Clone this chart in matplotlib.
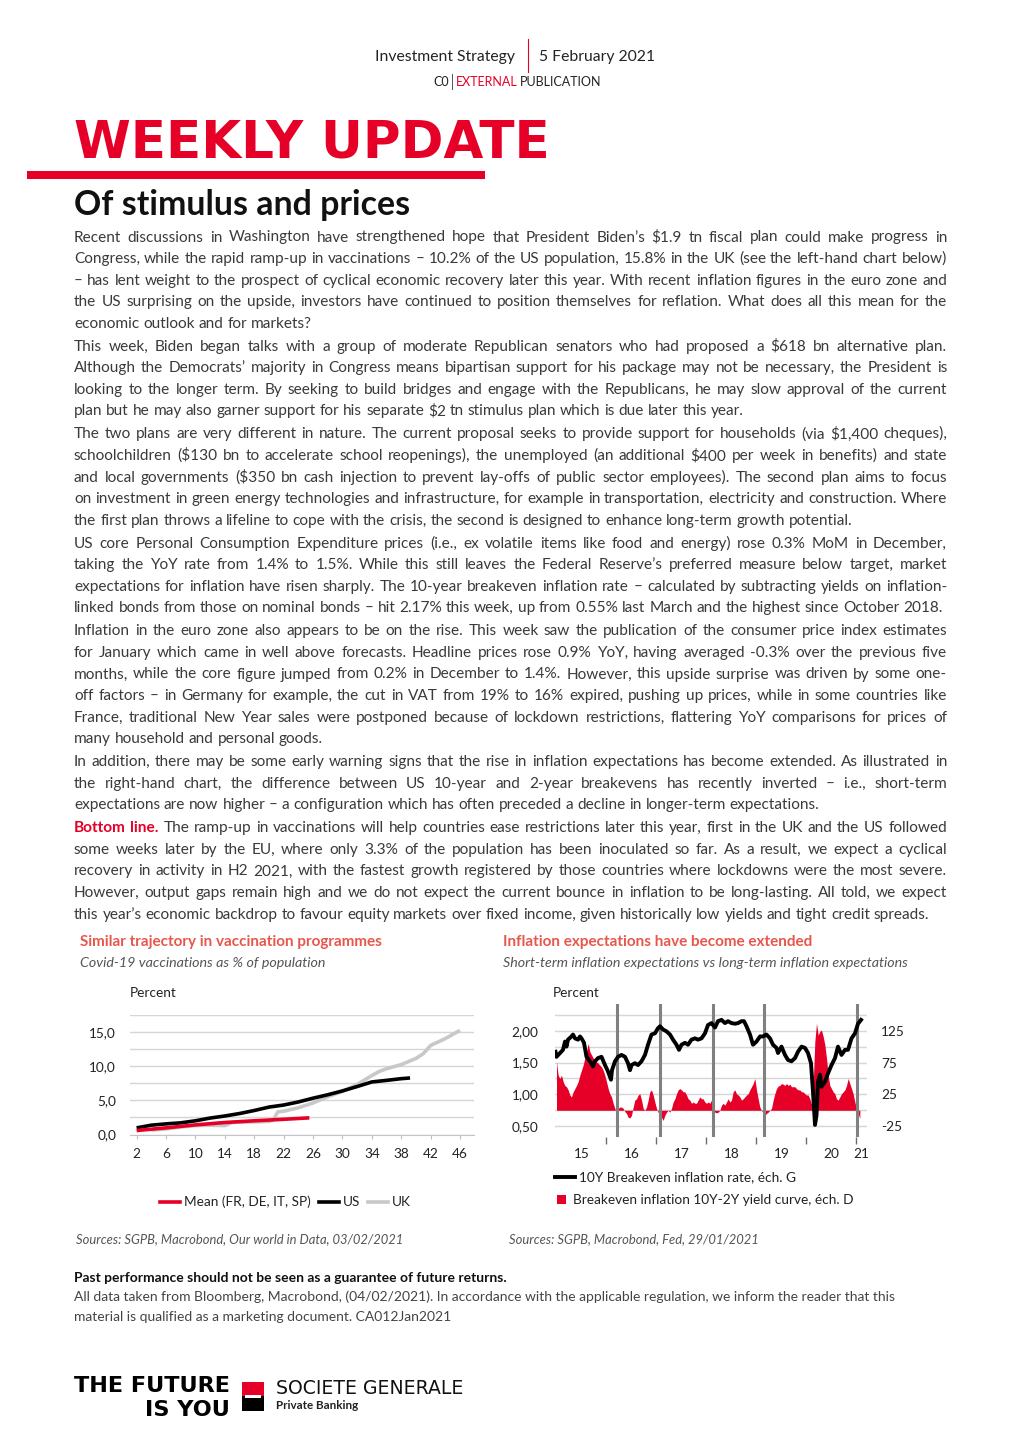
import matplotlib
matplotlib.use("Agg")
import matplotlib.pyplot as plt
import numpy as np
from matplotlib.lines import Line2D
from matplotlib.patches import Rectangle

W, H, DPI = 1020, 1442, 100
SG_RED = "#e60028"
TITLE_RED = "#e8574c"
INK = "#3a3a3a"
FONT = "Lato"
BODY = 11.1

# ---------------- left chart: covid-19 vaccinations, % of population
weeks_mean = [2, 6, 10, 14, 18, 22, 25.5]
mean_eu = [0.58, 0.97, 1.40, 1.75, 2.00, 2.22, 2.43]

weeks_us = [2, 4, 6, 8, 10, 12, 14, 16, 18, 20, 22, 24, 26, 28, 30, 32, 34, 36, 38, 39.2]
us = [0.97, 1.36, 1.55, 1.70, 2.00, 2.40, 2.70, 3.06, 3.50, 4.00, 4.30, 4.75, 5.30,
      5.80, 6.36, 7.00, 7.67, 7.90, 8.15, 8.25]

weeks_uk = [4, 6, 8, 10, 12, 14, 15, 16, 18, 20, 20.6, 21.2, 22, 24, 26, 28, 30, 32,
            34, 35, 36, 38, 40, 41, 42, 44, 46]
uk = [0.65, 0.80, 1.10, 1.30, 1.35, 1.30, 1.75, 1.80, 1.85, 1.90, 2.10, 3.30, 3.40,
      3.90, 4.60, 5.50, 6.30, 7.30, 8.60, 9.20, 9.60, 10.20, 11.10, 11.80, 13.00,
      14.00, 15.20]

week_ticks = [2, 6, 10, 14, 18, 22, 26, 30, 34, 38, 42, 46]
vacc_grid = [0, 2.5, 5, 7.5, 10, 12.5, 15, 17.5]
vacc_labels = ["0,0", "", "5,0", "", "10,0", "", "15,0", ""]
vacc_legend = ["Mean (FR, DE, IT, SP)", "US", "UK"]

# ---------------- right chart: US breakevens
be_x = [2015.00, 2015.02, 2015.09, 2015.15, 2015.19, 2015.22, 2015.25, 2015.32, 2015.35,
        2015.39, 2015.45, 2015.49, 2015.52, 2015.57, 2015.62, 2015.69, 2015.75, 2015.79,
        2015.85, 2015.92, 2015.99,
        2016.05, 2016.11, 2016.13, 2016.19, 2016.25, 2016.32, 2016.39, 2016.45, 2016.49,
        2016.52, 2016.59, 2016.65, 2016.72, 2016.79, 2016.85, 2016.92, 2016.99,
        2017.05, 2017.09, 2017.15, 2017.22, 2017.29, 2017.35, 2017.42, 2017.47, 2017.52,
        2017.59, 2017.65, 2017.72, 2017.79, 2017.85, 2017.92, 2017.99,
        2018.05, 2018.12, 2018.19, 2018.25, 2018.32, 2018.39, 2018.45, 2018.52, 2018.59,
        2018.65, 2018.72, 2018.77, 2018.82, 2018.89, 2018.95,
        2019.02, 2019.09, 2019.15, 2019.22, 2019.29, 2019.35, 2019.42, 2019.45, 2019.52,
        2019.59, 2019.65, 2019.72, 2019.79, 2019.85, 2019.92, 2019.99,
        2020.05, 2020.11, 2020.15, 2020.19, 2020.22, 2020.25, 2020.29, 2020.32, 2020.39,
        2020.45, 2020.52, 2020.59, 2020.65, 2020.72, 2020.79, 2020.85, 2020.92, 2020.99,
        2021.05, 2021.11]
be10 = [1.67, 1.59, 1.65, 1.70, 1.83, 1.75, 1.86, 1.91, 1.94, 1.88, 1.86, 1.91, 1.88,
        1.81, 1.59, 1.52, 1.44, 1.52, 1.57, 1.59, 1.46,
        1.36, 1.23, 1.38, 1.52, 1.59, 1.62, 1.59, 1.49, 1.38, 1.46, 1.49, 1.46, 1.52,
        1.62, 1.78, 1.94, 1.96,
        2.04, 2.07, 2.02, 1.99, 1.94, 1.86, 1.78, 1.70, 1.78, 1.81, 1.78, 1.86, 1.88,
        1.86, 1.88, 1.96,
        2.09, 2.12, 2.05, 2.15, 2.17, 2.12, 2.15, 2.12, 2.11, 2.12, 2.15, 2.15, 2.07,
        1.94, 1.78,
        1.83, 1.91, 1.91, 1.94, 1.88, 1.78, 1.73, 1.65, 1.75, 1.62, 1.54, 1.52, 1.57,
        1.67, 1.75, 1.73,
        1.65, 1.49, 1.04, 0.52, 0.67, 1.20, 1.31, 1.12, 1.20, 1.33, 1.46, 1.57, 1.75,
        1.62, 1.70, 1.70, 1.88, 1.96,
        2.11, 2.17]

# 10Y-2Y breakeven spread (bp), sampled every 1/30 year from early Jan 2015
spread_start, spread_step = 2015.02, 1 / 30
spread = [76, 55, 50, 55, 45, 39, 37, 32, 24, 21,
          29, 34, 39, 45, 55, 63, 71, 82, 92, 105,
          92, 87, 82, 79, 76, 74, 71, 68, 63, 55,
          45, 34, 26, 21, 11, 3, -3, 3, 5, 5,
          3, -2, -5, -11, -12, -8, 5, 16, 18, 24,
          26, 16, 3, 0, 5, 16, 29, 32, 24, 13,
          3, -3, -5, -11, -16, -8, -3, 0, -3, 3,
          13, 18, 26, 32, 34, 32, 29, 29, 24, 18,
          16, 11, 13, 11, 11, 16, 21, 18, 18, 13,
          11, 13, 11, 16, 0, -3, -4, -3, 0, 8,
          11, 8, 13, 18, 13, 16, 29, 32, 26, 24,
          21, 16, 18, 21, 24, 26, 32, 37, 42, 50,
          32, 18, 5, 0, -4, -8, -5, -3, 0, 3,
          16, 26, 34, 38, 39, 42, 41, 39, 42, 39,
          41, 37, 37, 37, 34, 32, 32, 29, 29, 26,
          24, 24, 18, 10, 40, 108, 137, 118, 124, 126,
          116, 103, 82, 55, 39, 34, 29, 26, 18, 16,
          21, 26, 29, 32, 39, 50, 42, 34, 26, 13,
          3, -5, -13]

marker_dates = [2016.22, 2017.09, 2018.15, 2019.17, 2021.02]
year_bounds = [2016, 2017, 2018, 2019, 2020, 2021]
year_label_pos = [2015.53, 2016.52, 2017.52, 2018.52, 2019.52, 2020.52, 2021.12]
year_labels = ["15", "16", "17", "18", "19", "20", "21"]
be_grid = [0.5, 0.75, 1.0, 1.25, 1.5, 1.75, 2.0, 2.25]
be_labels = ["0,50", "", "1,00", "", "1,50", "", "2,00", ""]
sp_grid = [-25, 0, 25, 50, 75, 100, 125, 150]
sp_labels = ["-25", "", "25", "", "75", "", "125", ""]
be_legend = ["10Y Breakeven inflation rate, éch. G",
             "Breakeven inflation 10Y-2Y yield curve, éch. D"]

# ---------------- article text
paragraphs = [
    ["Recent discussions in Washington have strengthened hope that President Biden’s $1.9 tn fiscal plan could make progress in",
     "Congress, while the rapid ramp-up in vaccinations – 10.2% of the US population, 15.8% in the UK (see the left-hand chart below)",
     "– has lent weight to the prospect of cyclical economic recovery later this year. With recent inflation figures in the euro zone and",
     "the US surprising on the upside, investors have continued to position themselves for reflation. What does all this mean for the",
     "economic outlook and for markets?"],
    ["This week, Biden began talks with a group of moderate Republican senators who had proposed a $618 bn alternative plan.",
     "Although the Democrats’ majority in Congress means bipartisan support for his package may not be necessary, the President is",
     "looking to the longer term. By seeking to build bridges and engage with the Republicans, he may slow approval of the current",
     "plan but he may also garner support for his separate $2 tn stimulus plan which is due later this year."],
    ["The two plans are very different in nature. The current proposal seeks to provide support for households (via $1,400 cheques),",
     "schoolchildren ($130 bn to accelerate school reopenings), the unemployed (an additional $400 per week in benefits) and state",
     "and local governments ($350 bn cash injection to prevent lay-offs of public sector employees). The second plan aims to focus",
     "on investment in green energy technologies and infrastructure, for example in transportation, electricity and construction. Where",
     "the first plan throws a lifeline to cope with the crisis, the second is designed to enhance long-term growth potential."],
    ["US core Personal Consumption Expenditure prices (i.e., ex volatile items like food and energy) rose 0.3% MoM in December,",
     "taking the YoY rate from 1.4% to 1.5%. While this still leaves the Federal Reserve’s preferred measure below target, market",
     "expectations for inflation have risen sharply. The 10-year breakeven inflation rate – calculated by subtracting yields on inflation-",
     "linked bonds from those on nominal bonds – hit 2.17% this week, up from 0.55% last March and the highest since October 2018."],
    ["Inflation in the euro zone also appears to be on the rise. This week saw the publication of the consumer price index estimates",
     "for January which came in well above forecasts. Headline prices rose 0.9% YoY, having averaged -0.3% over the previous five",
     "months, while the core figure jumped from 0.2% in December to 1.4%. However, this upside surprise was driven by some one-",
     "off factors – in Germany for example, the cut in VAT from 19% to 16% expired, pushing up prices, while in some countries like",
     "France, traditional New Year sales were postponed because of lockdown restrictions, flattering YoY comparisons for prices of",
     "many household and personal goods."],
    ["In addition, there may be some early warning signs that the rise in inflation expectations has become extended. As illustrated in",
     "the right-hand chart, the difference between US 10-year and 2-year breakevens has recently inverted – i.e., short-term",
     "expectations are now higher – a configuration which has often preceded a decline in longer-term expectations."],
    ["Bottom line. The ramp-up in vaccinations will help countries ease restrictions later this year, first in the UK and the US followed",
     "some weeks later by the EU, where only 3.3% of the population has been inoculated so far. As a result, we expect a cyclical",
     "recovery in activity in H2 2021, with the fastest growth registered by those countries where lockdowns were the most severe.",
     "However, output gaps remain high and we do not expect the current bounce in inflation to be long-lasting. All told, we expect",
     "this year’s economic backdrop to favour equity markets over fixed income, given historically low yields and tight credit spreads."],
]

fig = plt.figure(figsize=(W / DPI, H / DPI), dpi=DPI)
fig.patch.set_facecolor("white")
renderer = fig.canvas.get_renderer()


def fx(x):
    return x / W


def fy(y):
    return 1 - y / H


def txt(x, y, s, size, **kw):
    kw.setdefault("family", FONT)
    kw.setdefault("color", INK)
    kw.setdefault("va", "baseline")
    return fig.text(fx(x), fy(y), s, fontsize=size, parse_math=False, **kw)


def width(t):
    return t.get_window_extent(renderer).width


def fit_width(t, w):
    t.set_fontsize(t.get_fontsize() * w / width(t))


def chain(x, y, parts, gap):
    # parts: list of (text, kwargs); laid out left to right
    for s, kw in parts:
        t = txt(x, y, s, kw.pop("size"), **kw)
        x += width(t) + gap
    return x


# ---------------- header
txt(515, 61, "Investment Strategy", 11.3, ha="right", color="#222222")
txt(539, 61, "5 February 2021", 11.3, color="#222222")
fig.add_artist(Line2D([fx(528), fx(528)], [fy(39), fy(72)], color=SG_RED, lw=0.8))
x = chain(433, 86, [("C0", dict(size=9.0, color="#222222"))], 2)
fig.add_artist(Line2D([fx(x + 1), fx(x + 1)], [fy(74), fy(89)], color="#555555", lw=0.7))
chain(x + 5, 86, [("EXTERNAL", dict(size=9.0, color=SG_RED)),
                  ("PUBLICATION", dict(size=9.0, color="#222222"))], 3)

t = txt(74, 158, "WEEKLY UPDATE", 38, family="DejaVu Sans", weight="bold", color=SG_RED)
fit_width(t, 475)
fig.add_artist(Rectangle((fx(27), fy(179)), fx(485 - 27), 8 / H, color=SG_RED, lw=0))
t = txt(74, 215, "Of stimulus and prices", 22, weight="bold", color="#111111")
fit_width(t, 335)

# ---------------- body text, justified
X0, X1 = 74, 947
probe = [txt(300, 600, "a a", BODY), txt(300, 600, "aa", BODY)]
space_w = width(probe[0]) - width(probe[1])
for p in probe:
    p.remove()


def body_line(line, y, justify, n_bold=0):
    arts = []
    for i, w in enumerate(line.split(" ")):
        if i < n_bold:
            arts.append(txt(0, y, w, BODY, color=SG_RED, weight="bold"))
        else:
            arts.append(txt(0, y, w, BODY))
    ws = [width(a) for a in arts]
    gap = (X1 - X0 - sum(ws)) / (len(arts) - 1) if justify else space_w
    xx = X0
    for a, w in zip(arts, ws):
        a.set_x(fx(xx))
        xx += w + gap


row = 0
for p, para in enumerate(paragraphs):
    for j, line in enumerate(para):
        y = 241.5 + 21.55 * row + 1.5 * p
        body_line(line, y, j < len(para) - 1, n_bold=2 if (p == 6 and j == 0) else 0)
        row += 1

# ---------------- chart headings
txt(80, 946, "Similar trajectory in vaccination programmes", 11.0, weight="bold", color=TITLE_RED)
txt(80, 967, "Covid-19 vaccinations as % of population", 10.3, style="italic",
    color="#555555")
txt(503, 946, "Inflation expectations have become extended", 11.0, weight="bold", color=TITLE_RED)
txt(503, 967, "Short-term inflation expectations vs long-term inflation expectations", 10.3,
    style="italic", color="#555555")
txt(130, 997, "Percent", 9.8, color="#222222")
txt(553, 997, "Percent", 9.8, color="#222222")

# ---------------- left chart
axL = fig.add_axes([fx(130), fy(1134.5), (474 - 130) / W, (1134.5 - 1014.6) / H])
axL.plot(weeks_uk, uk, color="#c8c8c8", lw=2.6, solid_capstyle="butt", zorder=2)
axL.plot(weeks_us, us, color="black", lw=2.6, solid_capstyle="butt", zorder=3)
axL.plot(weeks_mean, mean_eu, color=SG_RED, lw=2.6, solid_capstyle="butt", zorder=4)
axL.set_xlim(1.1, 47.9)
axL.set_ylim(0, 17.5)
axL.set_yticks(vacc_grid)
axL.set_yticklabels(vacc_labels)
axL.set_xticks(week_ticks)
axL.set_xticklabels([str(w) for w in week_ticks])
axL.grid(axis="y", color="#d6d6d6", lw=1)
axL.set_axisbelow(True)
for s in ["top", "right", "left"]:
    axL.spines[s].set_visible(False)
axL.spines["bottom"].set_color("#c4c4c4")
axL.tick_params(axis="y", length=0, pad=10, labelsize=9.8, labelcolor="#222222")
axL.tick_params(axis="x", length=3, color="#bdbdbd", pad=7, labelsize=9.8,
                labelcolor="#222222")
for lab in axL.get_xticklabels() + axL.get_yticklabels():
    lab.set_family(FONT)

# left legend
lx, ly = 160, 1202
for name, col in zip(vacc_legend, [SG_RED, "black", "#c8c8c8"]):
    fig.add_artist(Line2D([fx(lx), fx(lx + 20)], [fy(ly), fy(ly)], color=col, lw=2.6))
    t = txt(lx + 24, ly + 4.5, name, 9.8, color="#222222")
    lx += 24 + width(t) + 8

# ---------------- right chart
axR = fig.add_axes([fx(555), fy(1137), (867 - 555) / W, (1137 - 1004) / H])
axR2 = axR.twinx()
axR.set_zorder(axR2.get_zorder() + 1)
axR.patch.set_visible(False)

spread_x = spread_start + spread_step * np.arange(len(spread))
axR2.fill_between(spread_x, 0, spread, color=SG_RED, lw=0)
for d in marker_dates:
    axR.axvline(d, color="#808080", lw=2.2, zorder=1)
axR.plot(be_x, be10, color="black", lw=2.8, solid_joinstyle="round", zorder=3)

axR.set_xlim(2014.99, 2021.23)
axR.set_ylim(0.33, 2.42)
axR2.set_ylim(0.33 * 100 - 75, 2.42 * 100 - 75)
axR.set_yticks(be_grid)
axR.set_yticklabels(be_labels)
axR2.set_yticks(sp_grid)
axR2.set_yticklabels(sp_labels)
axR2.grid(axis="y", color="#d6d6d6", lw=1)
axR2.set_axisbelow(True)
axR.set_xticks(year_bounds)
axR.set_xticklabels([])
axR.set_xticks(year_label_pos, minor=True)
axR.set_xticklabels(year_labels, minor=True)
for a in (axR, axR2):
    for s in a.spines.values():
        s.set_visible(False)
axR.tick_params(axis="y", length=0, pad=12, labelsize=9.8, labelcolor="#222222")
axR2.tick_params(axis="y", length=0, pad=10, labelsize=9.8, labelcolor="#222222")
axR.tick_params(axis="x", which="major", length=5, width=1, color="#6e6e6e")
axR.tick_params(axis="x", which="minor", length=0, pad=8, labelsize=9.8,
                labelcolor="#222222")
for a in (axR, axR2):
    for lab in a.get_yticklabels() + a.get_xticklabels(minor=True):
        lab.set_family(FONT)

# right legend
fig.add_artist(Line2D([fx(555), fx(575)], [fy(1177), fy(1177)], color="black", lw=2.8))
txt(579, 1181.5, be_legend[0], 9.8, color="#222222")
fig.add_artist(Rectangle((fx(557), fy(1204)), 9 / W, 9 / H, color=SG_RED, lw=0))
txt(573, 1204.5, be_legend[1], 9.8, color="#222222")

# ---------------- sources and disclaimer
txt(76, 1243, "Sources: SGPB, Macrobond, Our world in Data, 03/02/2021", 9.4,
    style="italic", color="#555555")
txt(509, 1243, "Sources: SGPB, Macrobond, Fed, 29/01/2021", 9.4,
    style="italic", color="#555555")
t = txt(74, 1282, "Past performance should not be seen as a guarantee of future returns.", 10,
        weight="bold", color="#111111")
fit_width(t, 434)
t = txt(74, 1301, "All data taken from Bloomberg, Macrobond, (04/02/2021). In accordance with the "
        "applicable regulation, we inform the reader that this", 9.6, color="#444444")
fit_width(t, 827)
txt(74, 1321, "material is qualified as a marketing document. CA012Jan2021", t.get_fontsize(),
    color="#444444")

# ---------------- logo
t = txt(74, 1392, "THE FUTURE", 16, family="DejaVu Sans", weight="bold", color="black")
fit_width(t, 156)
txt(230, 1416, "IS YOU", t.get_fontsize(), family="DejaVu Sans", weight="bold",
    color="black", ha="right")
fig.add_artist(Rectangle((fx(242), fy(1396)), 22 / W, 14 / H, color=SG_RED, lw=0))
fig.add_artist(Rectangle((fx(242), fy(1411)), 22 / W, 15 / H, color="black", lw=0))
fig.add_artist(Rectangle((fx(245), fy(1397.5)), 16 / W, 2.5 / H, color="white", lw=0))
t = txt(276, 1394, "SOCIETE GENERALE", 11, family="DejaVu Sans", color="#111111")
fit_width(t, 187)
t = txt(276, 1409, "Private Banking", 8, weight="bold", color="#222222")
fit_width(t, 82)

fig.savefig("out.png", dpi=DPI, facecolor="white")
